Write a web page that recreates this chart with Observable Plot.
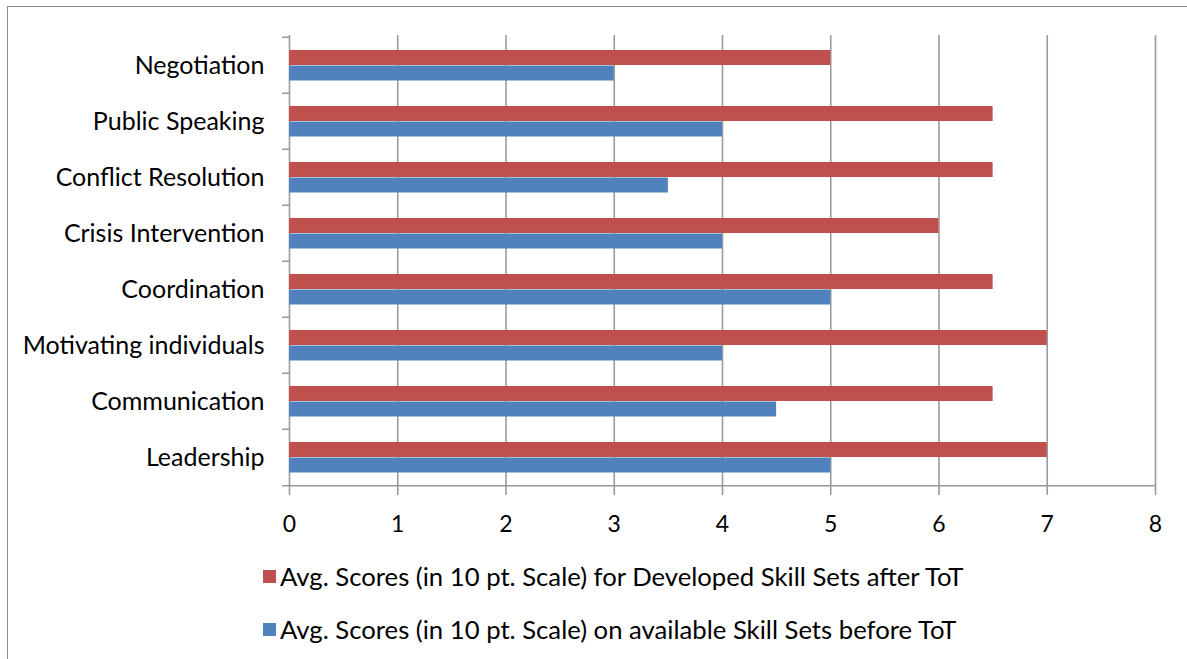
<!DOCTYPE html>
<html>
<head>
<meta charset="utf-8">
<script src="https://cdn.jsdelivr.net/npm/d3@7"></script>
<script src="https://cdn.jsdelivr.net/npm/@observablehq/plot@0.6"></script>
<style>
  html, body { margin: 0; padding: 0; background: #fff; overflow: hidden; }
  #wrap { position: relative; width: 1187px; height: 659px; font-family: Lato, sans-serif; }
  #frame { position: absolute; left: 7px; top: 6px; width: 1300px; height: 800px; border: 1px solid #8c8c8c; pointer-events: none; }
  #chart { position: absolute; left: 0; top: 0; }
  #legend { position: absolute; left: 263px; top: 561px; font-size: 25.7px; color: #000; }
  .row { display: flex; align-items: center; height: 30px; margin-bottom: 23px; }
  .sw { width: 13px; height: 13px; margin-right: 4px; }
</style>
</head>
<body>
<div id="wrap">
  <div id="chart"></div>
  <div id="legend"></div>
  <div id="frame"></div>
</div>
<script>
const categories = ["Negotiation", "Public Speaking", "Conflict Resolution", "Crisis Intervention", "Coordination", "Motivating individuals", "Communication", "Leadership"];
const afterScores = [5, 6.5, 6.5, 6, 6.5, 7, 6.5, 7];
const beforeScores = [3, 4, 3.5, 4, 5, 4, 4.5, 5];
const seriesNames = ["Avg. Scores (in 10 pt. Scale) for Developed Skill Sets after ToT", "Avg. Scores (in 10 pt. Scale) on available Skill Sets before ToT"];
const seriesColors = ["#C0504D", "#4F81BD"];
const xTicks = [0, 1, 2, 3, 4, 5, 6, 7, 8];

const afterData = categories.map((c, i) => ({category: c, value: afterScores[i]}));
const beforeData = categories.map((c, i) => ({category: c, value: beforeScores[i]}));

const marginTop = 35, marginBottom = 58, height = 545;
const band = (height - marginTop - marginBottom) / categories.length;
const half = band / 2;

const plot = Plot.plot({
  width: 1187,
  height,
  marginLeft: 289,
  marginRight: 32,
  marginTop,
  marginBottom,
  style: { fontFamily: "Lato, sans-serif", background: "transparent" },
  x: { domain: [0, 8] },
  y: { domain: categories, padding: 0 },
  marks: [
    Plot.ruleX(xTicks, { stroke: "#9a9a9a", strokeWidth: 1.6, strokeOpacity: 1 }),
    Plot.barX(afterData, { y: "category", x: "value", fill: seriesColors[0], insetTop: 13, insetBottom: 28 }),
    Plot.barX(beforeData, { y: "category", x: "value", fill: seriesColors[1], insetTop: 28.5, insetBottom: 12.5 }),
    Plot.ruleY(categories, { y: d => d, x1: 0, x2: 0, insetLeft: -7, dy: -half, stroke: "#9a9a9a", strokeWidth: 1.6 }),
    Plot.ruleY([categories[categories.length - 1]], { y: d => d, x1: 0, x2: 8, insetLeft: -7, dy: half, stroke: "#9a9a9a", strokeWidth: 1.6 }),
    Plot.axisX(xTicks, { tickSize: 8, tickPadding: 20, stroke: "#9a9a9a", strokeWidth: 1.6, fontSize: 23, fill: "#000", label: null }),
    Plot.axisY({ tickSize: 0, tickPadding: 25, fontSize: 25, fill: "#000", label: null })
  ]
});
document.getElementById("chart").appendChild(plot);

const legend = document.getElementById("legend");
seriesNames.forEach((name, i) => {
  const row = document.createElement("div");
  row.className = "row";
  const sw = document.createElement("div");
  sw.className = "sw";
  sw.style.background = seriesColors[i];
  const t = document.createElement("span");
  t.textContent = name;
  row.appendChild(sw);
  row.appendChild(t);
  legend.appendChild(row);
});
</script>
</body>
</html>
